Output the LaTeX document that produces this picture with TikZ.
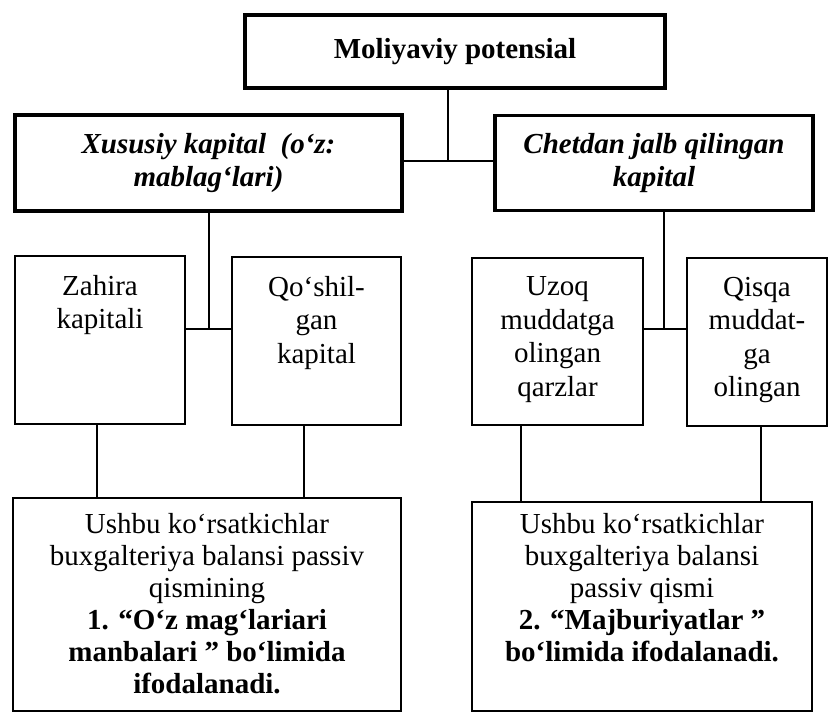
\documentclass[tikz,border=0pt]{standalone}
\usepackage{fontspec}
\setmainfont{Liberation Serif}
\usetikzlibrary{positioning}

\begin{document}
\begin{tikzpicture}[x=1pt,y=-1pt,line width=1.8pt,
    bigbox/.style={draw,line width=3.5pt,inner sep=0pt,align=center},
    smallbox/.style={draw,line width=1.8pt,inner sep=0pt},
    boxtext/.style={inner sep=0pt,align=center,font=\fontsize{29}{33.5}\selectfont},
    notetext/.style={inner sep=0pt,align=center,font=\fontsize{29}{32}\selectfont}]
  \useasboundingbox (0,0) rectangle (829,712);
      \node[bigbox,minimum width=420pt,minimum height=73pt,
            font=\fontsize{29}{33}\selectfont\bfseries] (mp) at (455,51.5)
            {Moliyaviy potensial};
      \node[bigbox,minimum width=387pt,minimum height=96pt,
            font=\fontsize{29}{33}\selectfont\bfseries\itshape] (xk) at (208.5,163)
            {Xususiy kapital\ \ (o‘z:\\mablag‘lari)};
      \node[bigbox,minimum width=318pt,minimum height=95pt,
            font=\fontsize{29}{33}\selectfont\bfseries\itshape] (cj) at (654,163)
            {Chetdan jalb qilingan\\kapital};
      % second row
      \node[smallbox,minimum width=170pt,minimum height=168pt] (zk) at (100,340) {};
      \node[smallbox,minimum width=169pt,minimum height=168pt] (qk) at (316.5,341) {};
      \node[smallbox,minimum width=171pt,minimum height=167pt] (uq) at (557.5,341.5) {};
      \node[smallbox,minimum width=140pt,minimum height=168pt] (qm) at (757,342) {};
      \node[boxtext,below=19pt of zk.north] (zkt) {Zahira\\kapitali};
      \node[boxtext,below=19pt of qk.north] (qkt) {Qo‘shil-\\gan\\kapital};
      \node[boxtext,below=19pt of uq.north] (uqt) {Uzoq\\muddatga\\olingan\\qarzlar};
      \node[boxtext,below=19pt of qm.north] (qmt) {Qisqa\\muddat-\\ga\\olingan};
      % notes
      \node[smallbox,minimum width=388pt,minimum height=213pt] (r1) at (207,604.5) {};
      \node[smallbox,minimum width=340pt,minimum height=209pt] (r2) at (642,606.5) {};
      \node[notetext,below=15pt of r1.north] (r1t)
            {Ushbu ko‘rsatkichlar\\buxgalteriya balansi passiv\\qismining\\
             \textbf{1. “O‘z mag‘lariari}\\\textbf{manbalari ” bo‘limida}\\
             \textbf{ifodalanadi.}};
      \node[notetext,below=11pt of r2.north] (r2t)
            {Ushbu ko‘rsatkichlar\\buxgalteriya balansi\\passiv qismi\\
             \textbf{2. “Majburiyatlar ”}\\\textbf{bo‘limida ifodalanadi.}};
      % connectors
      \coordinate (j1) at (448,161);
      \coordinate (j2) at (209,329);
      \coordinate (j3) at (664,329);
      \draw (mp.south -| j1) -- (j1);
      \draw (xk.east |- j1) -- (cj.west |- j1);
      \draw (xk.south -| j2) -- (j2);
      \draw (zk.east |- j2) -- (qk.west |- j2);
      \draw (cj.south -| j3) -- (j3);
      \draw (uq.east |- j3) -- (qm.west |- j3);
      \draw ([xshift=-3pt]zk.south) -- ([xshift=-3pt]zk.south |- r1.north);
      \draw ([xshift=-12.5pt]qk.south) -- ([xshift=-12.5pt]qk.south |- r1.north);
      \draw ([xshift=-36.5pt]uq.south) -- ([xshift=-36.5pt]uq.south |- r2.north);
      \draw ([xshift=4pt]qm.south) -- ([xshift=4pt]qm.south |- r2.north);
    \end{tikzpicture}
\end{document}
